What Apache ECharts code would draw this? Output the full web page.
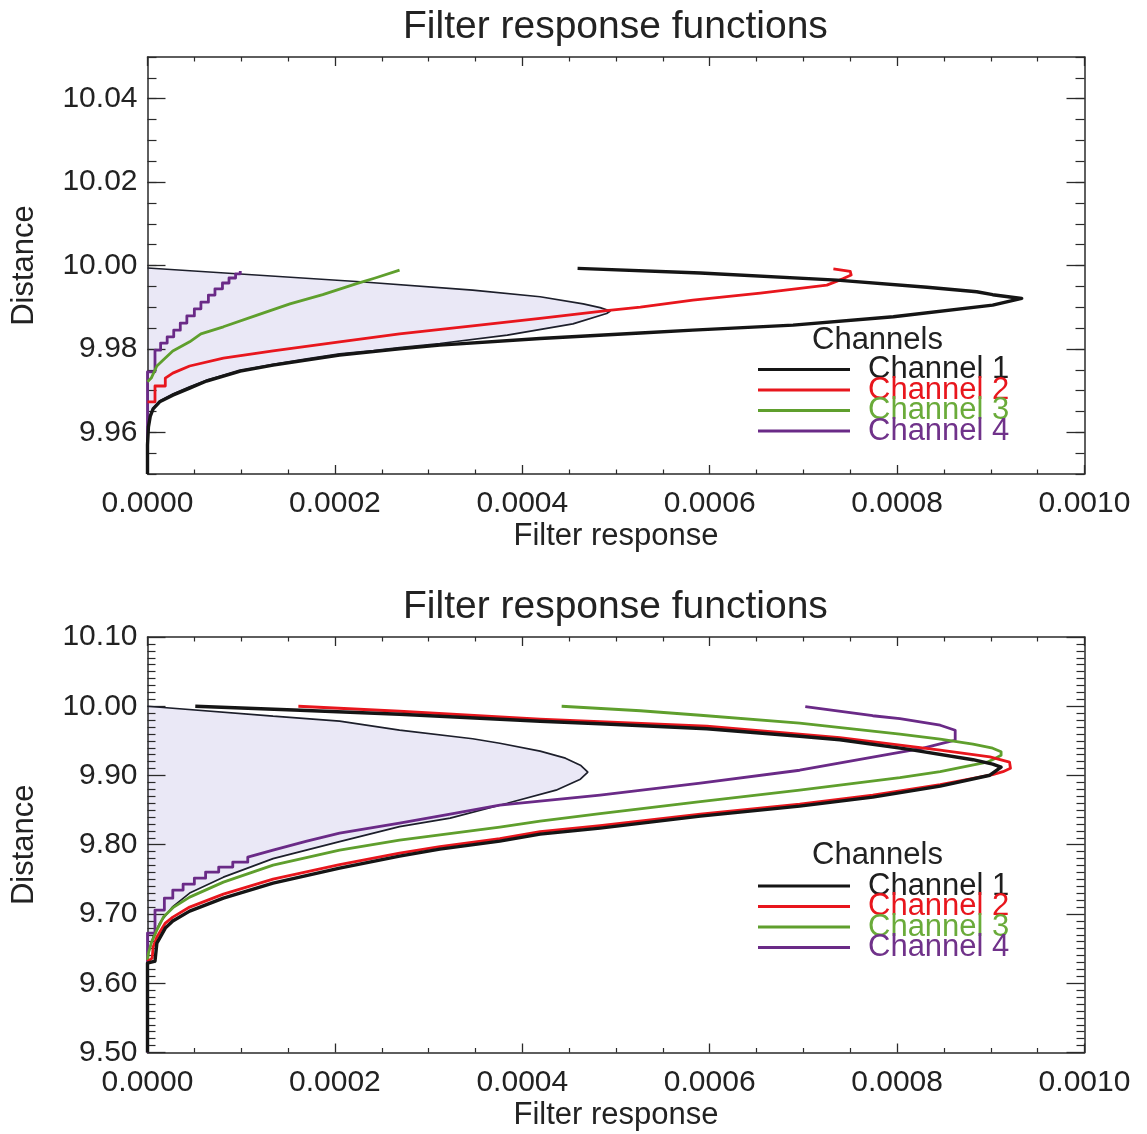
<!DOCTYPE html>
<html>
<head>
<meta charset="utf-8">
<script src="https://cdn.jsdelivr.net/npm/echarts@6/dist/echarts.min.js"></script>
<style>html,body{margin:0;padding:0;background:#fff}#c{width:1147px;height:1134px}</style>
</head>
<body>
<div id="c"></div>
<script>
// ---------------- data (response, distance) ----------------
const channelNames = ['Channel 1', 'Channel 2', 'Channel 3', 'Channel 4'];
const chartTitle = 'Filter response functions';
const xName = 'Filter response';
const yName = 'Distance';
const legendTitle = 'Channels';

const xMin = 0, xMax = 0.001, xStep = 0.0002;
const topYMin = 9.95, topYMax = 10.05, topYMinorStep = 0.005;
const topYMajorTicks = [9.96, 9.98, 10.00, 10.02, 10.04];
const botYMin = 9.5, botYMax = 10.1, botYStep = 0.1;

// top panel
const topSource = [[0,9.9994],[0.000227,9.9961],[0.000347,9.9941],[0.000419,9.9925],[0.000465,9.9908],[0.000483,9.9899],[0.000494,9.9891],[0.000490,9.9885],[0.000454,9.9860],[0.000384,9.9833],[0.000312,9.9813],[0.000269,9.9803],[0.000241,9.9796],[0.000205,9.9788],[0.000170,9.9776],[0.000134,9.9763],[0.000099,9.9748],[0.000063,9.9725],[0.000045,9.9709],[0.000027,9.9692],[0.000013,9.9675],[0.000006,9.9658],[0.000003,9.9642],[0.000001,9.9615],[0,9.9582]];
const topCh1 = [[0,9.9500],[0,9.9570],[0.000001,9.9613],[0.000003,9.9639],[0.000006,9.9656],[0.000013,9.9673],[0.000027,9.9689],[0.000045,9.9706],[0.000063,9.9723],[0.000099,9.9747],[0.000134,9.9761],[0.000205,9.9785],[0.000269,9.9800],[0.000312,9.9809],[0.000419,9.9825],[0.000526,9.9838],[0.000582,9.9845],[0.000689,9.9857],[0.000796,9.9877],[0.000902,9.9905],[0.000933,9.9921],[0.000902,9.9930],[0.000885,9.9937],[0.000832,9.9948],[0.000736,9.9965],[0.000590,9.9982],[0.000459,9.9993]];
const topCh2 = [[0,9.9673],[0.000008,9.9673],[0.000008,9.9711],[0.000019,9.9711],[0.000019,9.9730],[0.000027,9.9742],[0.000045,9.9759],[0.000081,9.9778],[0.000134,9.9795],[0.000205,9.9817],[0.000269,9.9836],[0.000347,9.9855],[0.000419,9.9873],[0.000490,9.9892],[0.000526,9.9900],[0.000582,9.9917],[0.000654,9.9934],[0.000725,9.9953],[0.000742,9.9968],[0.000751,9.9977],[0.000750,9.9986],[0.000732,9.9992]];
const topCh3 = [[0,9.9721],[0.000004,9.9730],[0.000010,9.9759],[0.000019,9.9778],[0.000027,9.9795],[0.000045,9.9817],[0.000057,9.9836],[0.000081,9.9853],[0.000117,9.9881],[0.000152,9.9908],[0.000187,9.9930],[0.000224,9.9957],[0.000243,9.9970],[0.000269,9.9989]];
const topCh4 = [[0,9.9500],[0,9.9745],[0.000008,9.9797],[0.000014,9.9814],[0.000021,9.9829],[0.000028,9.9845],[0.000035,9.9862],[0.000042,9.9879],[0.000050,9.9896],[0.000057,9.9912],[0.000065,9.9929],[0.000072,9.9944],[0.000080,9.9958],[0.000087,9.9970],[0.000094,9.9980],[0.000099,9.9987]];

// bottom panel
const botSource = [[0,10.0000],[0.000134,9.9856],[0.000205,9.9784],[0.000269,9.9654],[0.000347,9.9531],[0.000376,9.9466],[0.000419,9.9351],[0.000446,9.9250],[0.000462,9.9149],[0.000470,9.9048],[0.000462,9.8947],[0.000436,9.8788],[0.000384,9.8600],[0.000323,9.8384],[0.000269,9.8261],[0.000205,9.8045],[0.000134,9.7799],[0.000081,9.7532],[0.000045,9.7302],[0.000027,9.7107],[0.000013,9.6869],[0.000006,9.6667],[0.000001,9.6436],[0,9.6190]];
const botCh1 = [[0,9.5000],[0,9.6291],[0.000008,9.6320],[0.000010,9.6580],[0.000019,9.6797],[0.000027,9.6898],[0.000045,9.7042],[0.000081,9.7229],[0.000134,9.7446],[0.000205,9.7662],[0.000269,9.7836],[0.000312,9.7937],[0.000376,9.8052],[0.000419,9.8153],[0.000483,9.8240],[0.000590,9.8413],[0.000696,9.8557],[0.000774,9.8687],[0.000846,9.8846],[0.000899,9.9004],[0.000911,9.9120],[0.000902,9.9163],[0.000881,9.9228],[0.000811,9.9380],[0.000739,9.9517],[0.000696,9.9567],[0.000597,9.9675],[0.000483,9.9747],[0.000419,9.9784],[0.000269,9.9885],[0.000163,9.9942],[0.000051,10.0000]];
const botCh2 = [[0,9.6313],[0.000005,9.6364],[0.000006,9.6522],[0.000010,9.6667],[0.000019,9.6869],[0.000027,9.6955],[0.000045,9.7100],[0.000081,9.7287],[0.000134,9.7504],[0.000205,9.7713],[0.000269,9.7879],[0.000312,9.7973],[0.000376,9.8088],[0.000419,9.8189],[0.000483,9.8276],[0.000590,9.8442],[0.000696,9.8586],[0.000774,9.8716],[0.000846,9.8867],[0.000902,9.9012],[0.000913,9.9055],[0.000921,9.9105],[0.000920,9.9192],[0.000912,9.9221],[0.000899,9.9268],[0.000846,9.9365],[0.000739,9.9548],[0.000597,9.9711],[0.000419,9.9812],[0.000269,9.9928],[0.000161,10.0000]];
const botCh3 = [[0,9.6335],[0.000001,9.6436],[0.000004,9.6580],[0.000010,9.6768],[0.000017,9.6955],[0.000028,9.7100],[0.000045,9.7244],[0.000081,9.7460],[0.000134,9.7706],[0.000205,9.7922],[0.000269,9.8066],[0.000376,9.8254],[0.000419,9.8341],[0.000483,9.8449],[0.000590,9.8622],[0.000696,9.8788],[0.000803,9.8968],[0.000846,9.9055],[0.000896,9.9192],[0.000904,9.9242],[0.000911,9.9293],[0.000911,9.9343],[0.000902,9.9394],[0.000881,9.9452],[0.000846,9.9524],[0.000803,9.9596],[0.000696,9.9755],[0.000590,9.9870],[0.000526,9.9935],[0.000442,10.0000]];
const botCh4 = [[0,9.5000],[0,9.6724],[0.000008,9.6724],[0.000008,9.7056],[0.000018,9.7056],[0.000018,9.7229],[0.000027,9.7229],[0.000027,9.7345],[0.000038,9.7345],[0.000038,9.7431],[0.000050,9.7431],[0.000050,9.7518],[0.000062,9.7518],[0.000062,9.7605],[0.000076,9.7605],[0.000076,9.7677],[0.000091,9.7677],[0.000091,9.7749],[0.000107,9.7749],[0.000107,9.7821],[0.000134,9.7922],[0.000170,9.8052],[0.000205,9.8167],[0.000269,9.8312],[0.000323,9.8442],[0.000376,9.8571],[0.000483,9.8716],[0.000590,9.8889],[0.000696,9.9076],[0.000774,9.9264],[0.000828,9.9394],[0.000849,9.9466],[0.000862,9.9509],[0.000862,9.9654],[0.000846,9.9726],[0.000803,9.9820],[0.000774,9.9863],[0.000702,9.9993]];

// ---------------- styles ----------------
const FONT = '"Liberation Sans", Arial, Helvetica, sans-serif';
const lineColors = ['#151515', '#e8161d', '#5f9f2d', '#6a2a87'];
const textColors = ['#1e1e1e', '#e8161d', '#6aab3a', '#70328a'];
const lineWidths = [3.4, 2.8, 2.8, 2.8];
const AX = '#2a2a2a';
const TXT = '#222';
const FILL = '#eae8f6';

const grids = [
  { left: 147.5, top: 57, width: 937, height: 417 },
  { left: 147.5, top: 637, width: 937, height: 415.5 }
];

function xAxisPair(gi) {
  const base = {
    type: 'value', gridIndex: gi, min: xMin, max: xMax, interval: xStep,
    axisLine: { show: true, onZero: false, lineStyle: { color: AX, width: 1.5 } },
    axisTick: { show: true, inside: true, length: 9, lineStyle: { color: AX, width: 1.3 } },
    minorTick: { show: true, splitNumber: 4, length: 4.5, lineStyle: { color: AX, width: 1.2 } },
    splitLine: { show: false }, minorSplitLine: { show: false }
  };
  return [
    Object.assign({}, base, {
      position: 'bottom',
      axisLabel: { show: true, margin: 15, fontSize: 30, color: TXT, fontFamily: FONT, formatter: v => v.toFixed(4) },
      name: xName, nameLocation: 'middle', nameGap: 47,
      nameTextStyle: { fontSize: 31, color: TXT, fontFamily: FONT }
    }),
    Object.assign({}, base, { position: 'top', axisLabel: { show: false } })
  ];
}

function yBase(gi, min, max, interval, pos) {
  return {
    type: 'value', gridIndex: gi, min: min, max: max, interval: interval, position: pos,
    axisLine: { show: true, onZero: false, lineStyle: { color: AX, width: 1.5 } },
    splitLine: { show: false }, minorSplitLine: { show: false },
    axisLabel: { show: false }
  };
}

const yName0 = { name: yName, nameLocation: 'middle', nameGap: 108, nameTextStyle: { fontSize: 31, color: TXT, fontFamily: FONT } };
const yLab = (fmt) => ({ show: true, margin: 10, fontSize: 30, color: TXT, fontFamily: FONT, formatter: fmt });

const topLabelFmt = v => {
  const hit = topYMajorTicks.some(t => Math.abs(t - v) < 1e-6);
  return hit ? v.toFixed(2) : '';
};

const yAxes = [
  // 0: top panel, left, minor ticks + labels
  Object.assign(yBase(0, topYMin, topYMax, topYMinorStep, 'left'), yName0, {
    axisTick: { show: true, inside: true, length: 9, lineStyle: { color: AX, width: 1.2 } },
    axisLabel: yLab(topLabelFmt)
  }),
  // 1: top panel, left, major ticks
  Object.assign(yBase(0, topYMin, topYMax, topYMinorStep, 'left'), {
    axisLine: { show: false, onZero: false },
    axisTick: { show: true, inside: true, length: 18, customValues: topYMajorTicks, lineStyle: { color: AX, width: 1.3 } }
  }),
  // 2: top panel, right, minor ticks
  Object.assign(yBase(0, topYMin, topYMax, topYMinorStep, 'right'), {
    axisTick: { show: true, inside: true, length: 9, lineStyle: { color: AX, width: 1.2 } }
  }),
  // 3: top panel, right, major ticks
  Object.assign(yBase(0, topYMin, topYMax, topYMinorStep, 'right'), {
    axisLine: { show: false, onZero: false },
    axisTick: { show: true, inside: true, length: 18, customValues: topYMajorTicks, lineStyle: { color: AX, width: 1.3 } }
  }),
  // 4: bottom panel, left
  Object.assign(yBase(1, botYMin, botYMax, botYStep, 'left'), yName0, {
    axisTick: { show: true, inside: true, length: 18, lineStyle: { color: AX, width: 1.3 } },
    minorTick: { show: true, splitNumber: 10, length: 8, lineStyle: { color: AX, width: 1.2 } },
    axisLabel: yLab(v => v.toFixed(2))
  }),
  // 5: bottom panel, right
  Object.assign(yBase(1, botYMin, botYMax, botYStep, 'right'), {
    axisTick: { show: true, inside: true, length: 18, lineStyle: { color: AX, width: 1.3 } },
    minorTick: { show: true, splitNumber: 10, length: 8, lineStyle: { color: AX, width: 1.2 } }
  })
];

const xAxes = xAxisPair(0).concat(xAxisPair(1));

function fillSeries(data, xi, yi) {
  return {
    type: 'custom', xAxisIndex: xi, yAxisIndex: yi, data: data, silent: true, z: -1, clip: true,
    renderItem: function (params, api) {
      if (params.dataIndex !== 0) return null;
      const pts = data.map(p => api.coord(p));
      return { type: 'polygon', shape: { points: pts }, style: { fill: FILL } };
    }
  };
}
function srcLine(data, xi, yi) {
  return { type: 'line', name: 'source', xAxisIndex: xi, yAxisIndex: yi, data: data, symbol: 'none',
    silent: true, z: 3, lineStyle: { color: '#1d1f2b', width: 1.7 }, clip: true };
}
function chLine(i, data, xi, yi, step) {
  const s = { type: 'line', name: channelNames[i], xAxisIndex: xi, yAxisIndex: yi, data: data, symbol: 'none',
    silent: true, z: 4 + (3 - i), lineStyle: { color: lineColors[i], width: lineWidths[i], join: 'round' },
    itemStyle: { color: lineColors[i] }, clip: true };
  if (step) s.step = step;
  return s;
}

const series = [
  fillSeries(topSource, 0, 0), srcLine(topSource, 0, 0),
  chLine(0, topCh1, 0, 0), chLine(1, topCh2, 0, 0), chLine(2, topCh3, 0, 0), chLine(3, topCh4, 0, 0, 'end'),
  fillSeries(botSource, 2, 4), srcLine(botSource, 2, 4),
  chLine(0, botCh1, 2, 4), chLine(1, botCh2, 2, 4), chLine(2, botCh3, 2, 4), chLine(3, botCh4, 2, 4)
];

function legendAt(top) {
  return {
    left: 758, top: top, orient: 'vertical', padding: 0, itemGap: -10.5,
    itemWidth: 92, itemHeight: 3, icon: 'rect', selectedMode: false,
    data: channelNames.map((n, i) => ({ name: n, textStyle: { color: textColors[i] } })),
    textStyle: { fontSize: 31, fontFamily: FONT, padding: [0, 0, 0, 13] }
  };
}

const titleStyle = { fontSize: 39, fontWeight: 'normal', color: TXT, fontFamily: FONT };
const legTitleStyle = { fontSize: 31, fontWeight: 'normal', color: TXT, fontFamily: FONT };

const option = {
  animation: false,
  backgroundColor: '#ffffff',
  title: [
    { text: chartTitle, left: 403, top: 8, padding: 0, textStyle: titleStyle },
    { text: chartTitle, left: 403, top: 588, padding: 0, textStyle: titleStyle },
    { text: legendTitle, left: 812, top: 325, padding: 0, textStyle: legTitleStyle },
    { text: legendTitle, left: 812, top: 840, padding: 0, textStyle: legTitleStyle }
  ],
  legend: [legendAt(354), legendAt(870.5)],
  grid: grids,
  xAxis: xAxes,
  yAxis: yAxes,
  series: series
};

const chart = echarts.init(document.getElementById('c'), null, { renderer: 'canvas' });
chart.setOption(option);
</script>
</body>
</html>
